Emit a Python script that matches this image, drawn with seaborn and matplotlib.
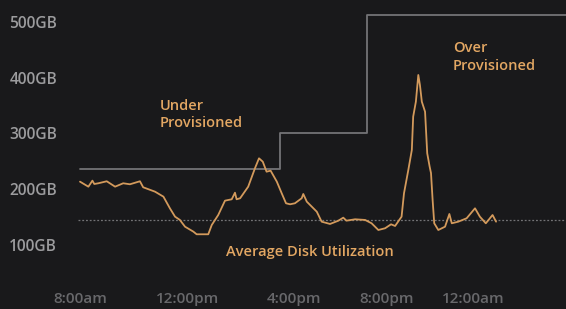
import numpy as np
import pandas as pd
import matplotlib
matplotlib.use("Agg")
import matplotlib.pyplot as plt
import seaborn as sns

# hours after 8:00am
util_hours = [0.0, 0.31, 0.46, 0.53, 0.68, 0.99, 1.30, 1.60, 1.85, 2.22, 2.34, 2.78,
              3.09, 3.33, 3.52, 3.70, 3.89, 4.20, 4.32, 4.75, 4.88, 5.12, 5.37, 5.62,
              5.74, 5.80, 5.93, 6.23, 6.48, 6.63, 6.77, 6.91, 7.06, 7.29, 7.47, 7.63,
              7.78, 7.96, 8.21, 8.27, 8.40, 8.77, 8.95, 9.26, 9.57, 9.75, 9.87, 10.19,
              10.56, 10.80, 11.05, 11.30, 11.52, 11.67, 11.91, 12.00, 12.16, 12.29, 12.34,
              12.44, 12.53, 12.59, 12.66, 12.78, 12.86, 12.95, 13.00, 13.06, 13.12, 13.27,
              13.52, 13.63, 13.68, 13.77, 14.01, 14.32, 14.63, 14.81, 15.03, 15.28, 15.41]
util_gb = [213.6, 204.6, 215.4, 209.4, 210.7, 214.3, 204.6, 210.7, 208.9, 214.3, 203.5, 195.6,
           186.7, 165.8, 150.8, 144.9, 132.8, 123.9, 119.2, 119.2, 135.9, 153.8, 179.5, 182.0,
           193.8, 182.0, 183.8, 204.6, 237.6, 255.5, 249.4, 231.5, 233.3, 213.6, 192.8, 174.8,
           173.0, 174.8, 183.8, 191.5, 177.7, 159.7, 141.8, 137.7, 143.6, 149.0, 143.6, 146.1,
           144.9, 138.9, 126.9, 130.0, 137.1, 134.1, 150.8, 192.8, 234.6, 270.4, 330.2,
           357.1, 405.0, 387.0, 357.1, 339.1, 264.5, 240.5, 229.0, 180.7, 138.9, 126.9,
           132.8, 148.4, 155.6, 138.9, 141.8, 147.9, 165.8, 150.8, 138.9, 153.8, 141.8]

# provisioned capacity (step changes)
prov_hours = [0.0, 7.41, 10.63, 18.0]
prov_gb = [236, 301, 513, 513]

avg_gb = 144

y_ticks = [100, 200, 300, 400, 500]
y_labels = ["100GB", "200GB", "300GB", "400GB", "500GB"]
x_ticks = [0.0, 4.0, 7.93, 11.37, 14.56]
x_labels = ["8:00am", "12:00pm", "4:00pm", "8:00pm", "12:00am"]

bg = "#19191b"
orange = "#d39a5c"
text_orange = "#e3a763"
grey_line = "#737376"

sns.set_theme(style="dark", rc={
    "figure.facecolor": bg,
    "axes.facecolor": bg,
    "axes.edgecolor": bg,
    "axes.grid": False,
})
plt.rcParams["font.family"] = ["Open Sans", "DejaVu Sans"]

fig = plt.figure(figsize=(5.66, 3.09), dpi=100)
ax = fig.add_axes([78 / 566, 24 / 309, 488 / 566, 285 / 309])

util = pd.DataFrame({"hour": util_hours, "gb": util_gb})
prov = pd.DataFrame({"hour": prov_hours, "gb": prov_gb})

sns.lineplot(data=prov, x="hour", y="gb", ax=ax, color=grey_line, linewidth=1.3,
             drawstyle="steps-post", estimator=None, sort=False)
ax.axhline(avg_gb, color=grey_line, linewidth=0.9, linestyle=(0, (1.5, 1.5)))
sns.lineplot(data=util, x="hour", y="gb", ax=ax, color=orange, linewidth=1.3,
             estimator=None, sort=False, solid_joinstyle="round")

ax.text(2.96, 334, "Under\nProvisioned", color=text_orange, fontsize=10.5,
        fontweight="semibold", ha="left", va="center", linespacing=1.35)
ax.text(13.81, 437, "Over\nProvisioned", color=text_orange, fontsize=10.5,
        fontweight="semibold", ha="left", va="center", linespacing=1.35)
ax.text(5.41, 87, "Average Disk Utilization", color=text_orange, fontsize=10.5,
        fontweight="semibold", ha="left", va="center")

ax.set_xlim(-0.074, 18.0)
ax.set_ylim(28.2, 539.5)
ax.set_yticks(y_ticks)
ax.set_yticklabels(y_labels, fontweight="semibold")
ax.set_xticks(x_ticks)
ax.set_xticklabels(x_labels, fontweight="semibold")
ax.set_xlabel("")
ax.set_ylabel("")
ax.tick_params(axis="y", length=0, pad=15, labelsize=11.2, labelcolor="#9c9c9e")
ax.tick_params(axis="x", length=0, pad=5, labelsize=11, labelcolor="#68686b")
for s in ax.spines.values():
    s.set_visible(False)

fig.savefig("out.png", dpi=100, facecolor=bg)
